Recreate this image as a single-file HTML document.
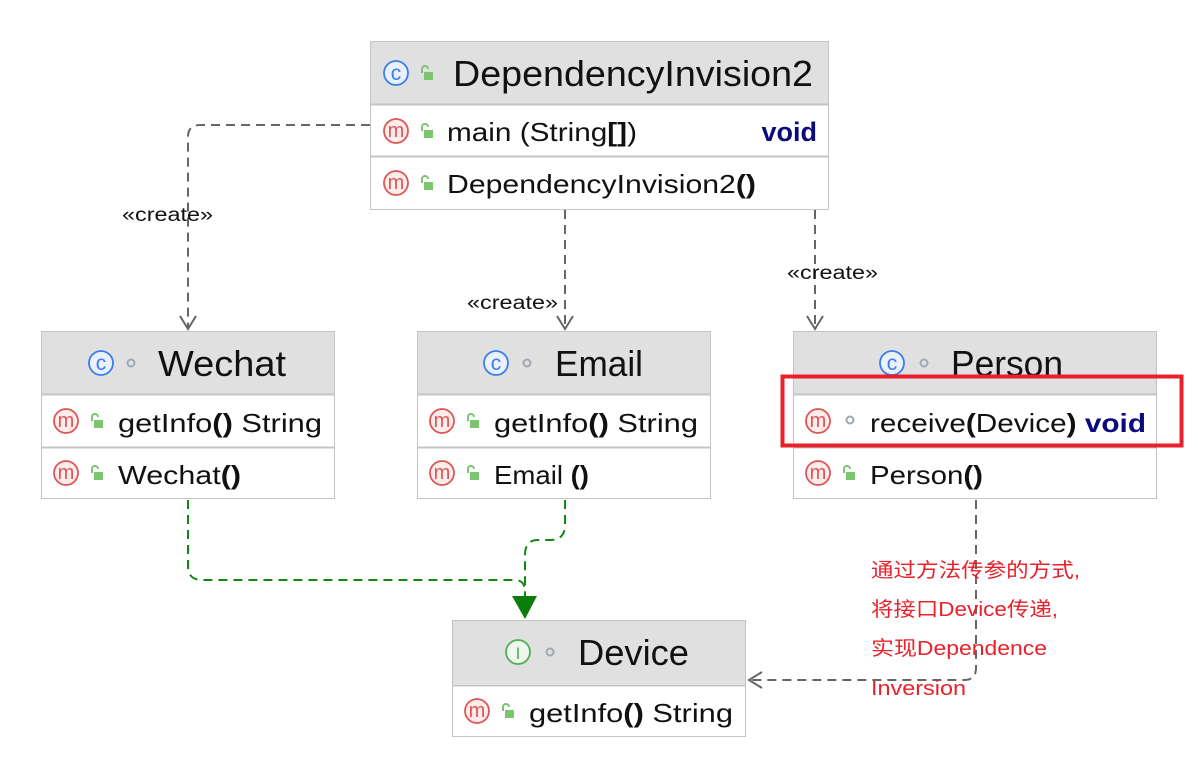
<!DOCTYPE html>
<html><head><meta charset="utf-8"><style>
html,body{margin:0;padding:0;background:#fff;}
svg{display:block;}
text{font-family:"Liberation Sans","Noto Sans CJK SC",sans-serif;}
</style></head><body>
<svg width="1198" height="778" viewBox="0 0 1198 778" xmlns="http://www.w3.org/2000/svg">
<defs>
<g id="ic"><circle r="12" fill="#eaf1fd" stroke="#3b7ded" stroke-width="1.8"/><text y="7" text-anchor="middle" font-size="21" fill="#3b7ded">c</text></g>
<g id="im"><circle r="12" fill="#fdecec" stroke="#e05555" stroke-width="1.8"/><text y="6" text-anchor="middle" font-size="20" fill="#e05555">m</text></g>
<g id="ii"><circle r="12" fill="#eef8ee" stroke="#4caf50" stroke-width="1.8"/><text y="7" text-anchor="middle" font-size="17" fill="#4caf50">I</text></g>
<g id="lk"><rect x="-2" y="-2" width="9" height="8" fill="#7cc46e"/><path d="M-4 -1 v-4 a3 3 0 0 1 6 0" fill="none" stroke="#7cc46e" stroke-width="2"/></g>
<g id="dt"><circle r="3.5" fill="none" stroke="#a0a8b0" stroke-width="2"/></g>
</defs>

<g fill="none" stroke="#666" stroke-width="2" stroke-dasharray="9,6">
<path d="M370 125 H200 Q188 125 188 137 V328"/>
<path d="M565 210 V328"/>
<path d="M815 210 V328"/>
<path d="M976 500 V668 Q976 680 964 680 H750"/>
</g>
<g fill="none" stroke="#666" stroke-width="2">
<path d="M180 316 L188 329 L196 316"/>
<path d="M557 316 L565 329 L573 316"/>
<path d="M807 316 L815 329 L823 316"/>
<path d="M762 672 L749 680 L762 688"/>
</g>
<g fill="none" stroke="#118811" stroke-width="2" stroke-dasharray="9,6">
<path d="M188 500 V566 Q188 580 202 580 H515 Q525 580 525 592 V598"/>
<path d="M565 500 V525 Q565 540 550 540 H538 Q525 540 525 555 V598"/>
</g>
<path d="M512 596 L537 596 L525 619 Z" fill="#0a7d0a"/>
<g font-size="19" fill="#111">
<text x="122" y="221" textLength="91" lengthAdjust="spacingAndGlyphs">«create»</text>
<text x="467" y="309" textLength="91" lengthAdjust="spacingAndGlyphs">«create»</text>
<text x="787" y="279" textLength="91" lengthAdjust="spacingAndGlyphs">«create»</text>
</g>

<!-- DependencyInvision2 -->
<rect x="370.5" y="41.5" width="458" height="168" fill="#fff" stroke="#c4c4c4"/>
<rect x="371" y="42" width="457" height="62" fill="#e0e0e0"/>
<line x1="370" y1="104.5" x2="829" y2="104.5" stroke="#c4c4c4" stroke-width="2"/>
<line x1="370" y1="156.5" x2="829" y2="156.5" stroke="#c4c4c4" stroke-width="2"/>
<use href="#ic" x="396" y="73"/><use href="#lk" x="426" y="74"/>
<text x="453" y="86" font-size="36" fill="#111" textLength="360" lengthAdjust="spacingAndGlyphs">DependencyInvision2</text>
<use href="#im" x="396" y="131"/><use href="#lk" x="426" y="132"/>
<text x="447" y="141" font-size="26" fill="#111" textLength="190" lengthAdjust="spacingAndGlyphs">main (String<tspan font-weight="bold">[]</tspan>)</text>
<text x="817" y="141" font-size="27" font-weight="bold" fill="#0b0b80" text-anchor="end">void</text>
<use href="#im" x="396" y="183"/><use href="#lk" x="426" y="184"/>
<text x="447" y="193" font-size="26" fill="#111" textLength="309" lengthAdjust="spacingAndGlyphs">DependencyInvision2<tspan font-weight="bold">()</tspan></text>

<!-- Wechat -->
<rect x="41.5" y="331.5" width="293" height="167" fill="#fff" stroke="#c4c4c4"/>
<rect x="42" y="332" width="292" height="62" fill="#e0e0e0"/>
<line x1="41" y1="394.5" x2="335" y2="394.5" stroke="#c4c4c4" stroke-width="2"/>
<line x1="41" y1="447.5" x2="335" y2="447.5" stroke="#c4c4c4" stroke-width="2"/>
<use href="#ic" x="101" y="363"/><use href="#dt" x="131" y="363"/>
<text x="158" y="376" font-size="36" fill="#111" textLength="128" lengthAdjust="spacingAndGlyphs">Wechat</text>
<use href="#im" x="66" y="421"/><use href="#lk" x="96" y="422"/>
<text x="118" y="432" font-size="26" fill="#111" textLength="204" lengthAdjust="spacingAndGlyphs">getInfo<tspan font-weight="bold">()</tspan> String</text>
<use href="#im" x="66" y="473"/><use href="#lk" x="96" y="474"/>
<text x="118" y="484" font-size="26" fill="#111" textLength="123" lengthAdjust="spacingAndGlyphs">Wechat<tspan font-weight="bold">()</tspan></text>

<!-- Email -->
<rect x="417.5" y="331.5" width="293" height="167" fill="#fff" stroke="#c4c4c4"/>
<rect x="418" y="332" width="292" height="62" fill="#e0e0e0"/>
<line x1="417" y1="394.5" x2="711" y2="394.5" stroke="#c4c4c4" stroke-width="2"/>
<line x1="417" y1="447.5" x2="711" y2="447.5" stroke="#c4c4c4" stroke-width="2"/>
<use href="#ic" x="496" y="363"/><use href="#dt" x="527" y="363"/>
<text x="555" y="376" font-size="36" fill="#111" textLength="88" lengthAdjust="spacingAndGlyphs">Email</text>
<use href="#im" x="442" y="421"/><use href="#lk" x="472" y="422"/>
<text x="494" y="432" font-size="26" fill="#111" textLength="204" lengthAdjust="spacingAndGlyphs">getInfo<tspan font-weight="bold">()</tspan> String</text>
<use href="#im" x="442" y="473"/><use href="#lk" x="472" y="474"/>
<text x="494" y="484" font-size="26" fill="#111" textLength="95" lengthAdjust="spacingAndGlyphs">Email <tspan font-weight="bold">()</tspan></text>

<!-- Person -->
<rect x="793.5" y="331.5" width="363" height="167" fill="#fff" stroke="#c4c4c4"/>
<rect x="794" y="332" width="362" height="62" fill="#e0e0e0"/>
<line x1="793" y1="394.5" x2="1157" y2="394.5" stroke="#c4c4c4" stroke-width="2"/>
<line x1="793" y1="447.5" x2="1157" y2="447.5" stroke="#c4c4c4" stroke-width="2"/>
<use href="#ic" x="892" y="363"/><use href="#dt" x="924" y="363"/>
<text x="951" y="376" font-size="36" fill="#111" textLength="112" lengthAdjust="spacingAndGlyphs">Person</text>
<use href="#im" x="818" y="421"/><use href="#dt" x="850" y="420"/>
<text x="870" y="432" font-size="26" fill="#111" textLength="276" lengthAdjust="spacingAndGlyphs">receive<tspan font-weight="bold">(</tspan>Device<tspan font-weight="bold">)</tspan> <tspan font-weight="bold" fill="#0b0b80">void</tspan></text>
<use href="#im" x="818" y="473"/><use href="#lk" x="848" y="474"/>
<text x="870" y="484" font-size="26" fill="#111" textLength="113" lengthAdjust="spacingAndGlyphs">Person<tspan font-weight="bold">()</tspan></text>
<rect x="782.5" y="376.5" width="399" height="69" fill="none" stroke="#e8212a" stroke-width="4"/>

<!-- Device -->
<rect x="452.5" y="620.5" width="293" height="116" fill="#fff" stroke="#c4c4c4"/>
<rect x="453" y="621" width="292" height="63" fill="#e0e0e0"/>
<line x1="452" y1="685.5" x2="746" y2="685.5" stroke="#c4c4c4" stroke-width="2"/>
<use href="#ii" x="518" y="652"/><use href="#dt" x="550" y="652"/>
<text x="578" y="665" font-size="36" fill="#111" textLength="111" lengthAdjust="spacingAndGlyphs">Device</text>
<use href="#im" x="477" y="711"/><use href="#lk" x="507" y="712"/>
<text x="529" y="722" font-size="26" fill="#111" textLength="204" lengthAdjust="spacingAndGlyphs">getInfo<tspan font-weight="bold">()</tspan> String</text>

<g font-size="20" fill="#e8212a">
<text x="871" y="577" textLength="209" lengthAdjust="spacingAndGlyphs">通过方法传参的方式,</text>
<text x="871" y="616" textLength="187" lengthAdjust="spacingAndGlyphs">将接口Device传递,</text>
<text x="871" y="655" textLength="176" lengthAdjust="spacingAndGlyphs">实现Dependence</text>
<text x="871" y="695" textLength="95" lengthAdjust="spacingAndGlyphs">Inversion</text>
</g>
</svg>
</body></html>
